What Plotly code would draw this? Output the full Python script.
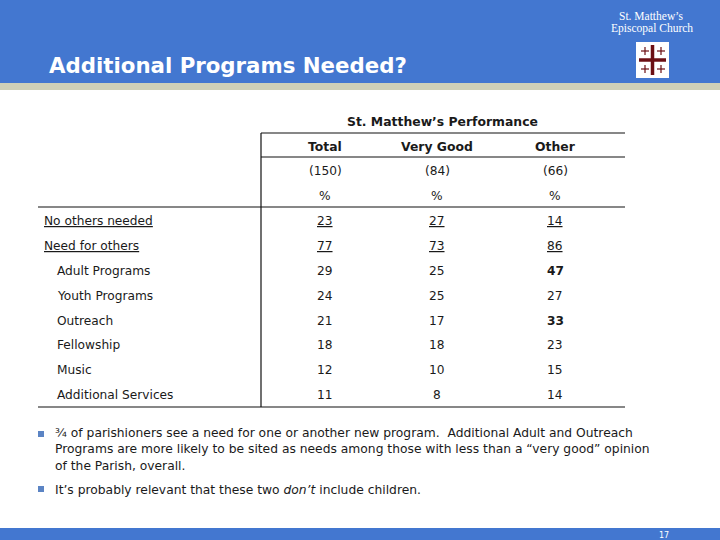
import plotly.graph_objects as go

# table values
columns = ["Total", "Very Good", "Other"]
bases = ["(150)", "(84)", "(66)"]
row_labels = ["No others needed", "Need for others", "Adult Programs", "Youth Programs",
              "Outreach", "Fellowship", "Music", "Additional Services"]
total = [23, 77, 29, 24, 21, 18, 12, 11]
very_good = [27, 73, 25, 25, 17, 18, 10, 8]
other = [14, 86, 47, 27, 33, 23, 15, 14]
bold_other = ["Adult Programs", "Outreach"]

title = "Additional Programs Needed?"
church = ["St. Matthew’s", "Episcopal Church"]
banner = "St. Matthew’s Performance"
bullet_one = ["¾ of parishioners see a need for one or another new program.  Additional Adult and Outreach",
              "Programs are more likely to be sited as needs among those with less than a “very good” opinion",
              "of the Parish, overall."]
bullet_two = "It’s probably relevant that these two <i>don’t</i> include children."
page_number = "17"

BLUE = "#4377d0"
FONT = "DejaVu Sans"
INK = "#1a1a1a"

COL_X = [325, 437, 555]
ROW_Y = [221, 246, 271, 296, 321, 345, 370, 395]


def rect(fig, x0, y0, x1, y1, color):
    fig.add_shape(type="rect", x0=x0, y0=y0, x1=x1, y1=y1, fillcolor=color, line_width=0, layer="below")


def rule(fig, x0, y0, x1, y1, color="#111111", width=1.2):
    fig.add_shape(type="line", x0=x0, y0=y0, x1=x1, y1=y1, line=dict(color=color, width=width))


def label(fig, x, y, text, size=12.2, color=INK, anchor="center", family=FONT):
    fig.add_annotation(x=x, y=y, text=text, showarrow=False, xanchor=anchor, yanchor="middle",
                       font=dict(family=family, size=size, color=color))


fig = go.Figure()
fig.update_layout(width=720, height=540, margin=dict(l=0, r=0, t=0, b=0), showlegend=False,
                  paper_bgcolor="white", plot_bgcolor="white")
fig.update_xaxes(range=[0, 720], visible=False, fixedrange=True)
fig.update_yaxes(range=[540, 0], visible=False, fixedrange=True)

# header and footer bands
rect(fig, 0, 0, 720, 83, BLUE)
rect(fig, 0, 83, 720, 90, "#cfd0b8")
rect(fig, 0, 528, 720, 540, BLUE)

# logo
rect(fig, 636, 42, 669, 78, "white")
rule(fig, 652.5, 45, 652.5, 75, "#6b0f14", 3.5)
rule(fig, 639, 60, 666, 60, "#6b0f14", 3.5)
for cx, cy in [(645, 51), (661, 51), (645, 69), (661, 69)]:
    rule(fig, cx - 4, cy, cx + 4, cy, "#6b0f14", 1.2)
    rule(fig, cx, cy - 4, cx, cy + 4, "#6b0f14", 1.2)

label(fig, 651, 16, church[0], size=11.5, color="white", family="Liberation Serif")
label(fig, 652, 28, church[1], size=11.5, color="white", family="Liberation Serif")
label(fig, 47, 65, "<b>" + title + "</b>", size=21.3, color="white", anchor="left")

# table rules
rule(fig, 261, 133, 625, 133)
rule(fig, 261, 157, 625, 157)
rule(fig, 38, 207, 625, 207)
rule(fig, 38, 407, 625, 407)
rule(fig, 261, 133, 261, 407)

# table header
label(fig, 442, 121, "<b>" + banner + "</b>", size=12.4)
for x, name, base in zip(COL_X, columns, bases):
    label(fig, x, 146, "<b>" + name + "</b>", size=12.4)
    label(fig, x, 171, base)
    label(fig, x, 196, "%")

# table body
for i, name in enumerate(row_labels):
    underlined = i < 2
    text = f"<u>{name}</u>" if underlined else name
    label(fig, 42 if underlined else 55, ROW_Y[i], text, anchor="left")
    for x, series in zip(COL_X, [total, very_good, other]):
        value = str(series[i])
        if series is other and name in bold_other:
            value = f"<b>{value}</b>"
        if underlined:
            value = f"<u>{value}</u>"
        label(fig, x, ROW_Y[i], value)

# notes
rect(fig, 38, 431, 44, 437, "#5b84c4")
rect(fig, 38, 486, 44, 492, "#5b84c4")
for y, line in zip([433, 449, 466], bullet_one):
    label(fig, 53, y, line, size=12.3, anchor="left")
label(fig, 53, 490, bullet_two, size=12.3, anchor="left")
label(fig, 664, 535, page_number, size=8, color="white")

fig.write_html("out.html", config={"displayModeBar": False}, post_script="document.body.style.margin='0';")
